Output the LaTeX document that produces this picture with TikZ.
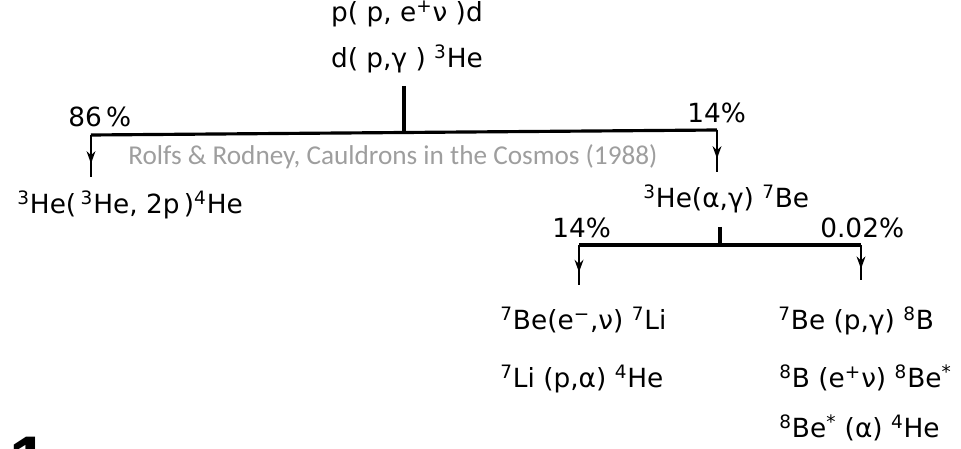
\documentclass[tikz,border=0pt]{standalone}
\usepackage{fontspec}
\setmainfont{DejaVu Sans}
\newfontfamily\citefont{Carlito}
\newfontfamily\pagefont{Liberation Sans}
\usepackage{xcolor}
\usetikzlibrary{arrows.meta,positioning,decorations.markings}

\newcommand{\iso}[2]{\textsuperscript{#1}#2}

\begin{document}
\begin{tikzpicture}[
  x=0.02cm, y=-0.02cm,
  font=\fontsize{15}{18}\selectfont,
  rx/.style={anchor=base west, inner sep=0pt},
  pct/.style={anchor=base west, inner sep=0pt},
  bar/.style={line width=1.8pt},
  feed/.style={line width=1.5pt, postaction={decorate},
    decoration={markings, mark=at position 0.68 with {\arrow{Stealth[length=7pt,width=5pt]}}}},
  cite/.style={anchor=base west, inner sep=0pt, text=black!38, font=\citefont\fontsize{15.5}{18}\selectfont}
]
\useasboundingbox (0,0) rectangle (961,449);
\clip (0,0) rectangle (961,449);

\node[rx, anchor=base] (ppd) at (407,22) {p( p, e\textsuperscript{+}ν )d};
\node[rx, anchor=base] (dpg) at (407,68) {d( p,γ ) \iso{3}{He}};
\coordinate (stem) at (404,86);
\coordinate (l86) at (91,135);
\coordinate (r14) at (717,130);
\coordinate (fork) at (404,132.5);
\coordinate (a86) at (91,177);
\coordinate (a14) at (717,172);
\draw[bar] (stem) -- (fork);
\draw[bar] (l86) -- (r14);
\draw[feed] (l86) -- (a86);
\draw[feed] (r14) -- (a14);
\node[pct] (p86) at (68,127) {86\,\%};
\node[pct] (p14) at (687,123) {14\%};
\node[cite] (src) at (128,165) {Rolfs \& Rodney, Cauldrons in the Cosmos (1988)};

\node[rx] (hehe) at (17,214) {\iso{3}{He}(\,\iso{3}{He}, 2p\,)\iso{4}{He}};
\node[rx] (heag) at (643,208) {\iso{3}{He}(α,γ) \iso{7}{Be}};
\coordinate (stem2) at (720,227);
\coordinate (fork2) at (720,245);
\coordinate (l14) at (579,245);
\coordinate (r002) at (861,245);
\coordinate (a14b) at (579,285);
\coordinate (a002) at (861,280);
\draw[bar] (stem2) -- (fork2);
\draw[bar] (l14) -- (r002);
\draw[feed] (l14) -- (a14b);
\draw[feed] (r002) -- (a002);
\node[pct] (p14b) at (552,238) {14\%};
\node[pct] (p002) at (820,238) {0.02\%};

\node[rx] (beli) at (500,330) {\iso{7}{Be}(e\textsuperscript{−},ν) \iso{7}{Li}};
\node[rx] (lihe) at (500,388) {\iso{7}{Li} (p,α) \iso{4}{He}};
\node[rx] (beb) at (778,330) {\iso{7}{Be} (p,γ) \iso{8}{B}};
\node[rx] (bbe) at (779,388) {\iso{8}{B} (e\textsuperscript{+}ν) \iso{8}{Be}\textsuperscript{*}};
\node[rx] (behe) at (779,438) {\iso{8}{Be}\textsuperscript{*} (α) \iso{4}{He}};

\node[anchor=north west, inner sep=0pt, font=\pagefont\bfseries\fontsize{40}{44}\selectfont] (pg) at (9,437) {1};
\end{tikzpicture}
\end{document}
